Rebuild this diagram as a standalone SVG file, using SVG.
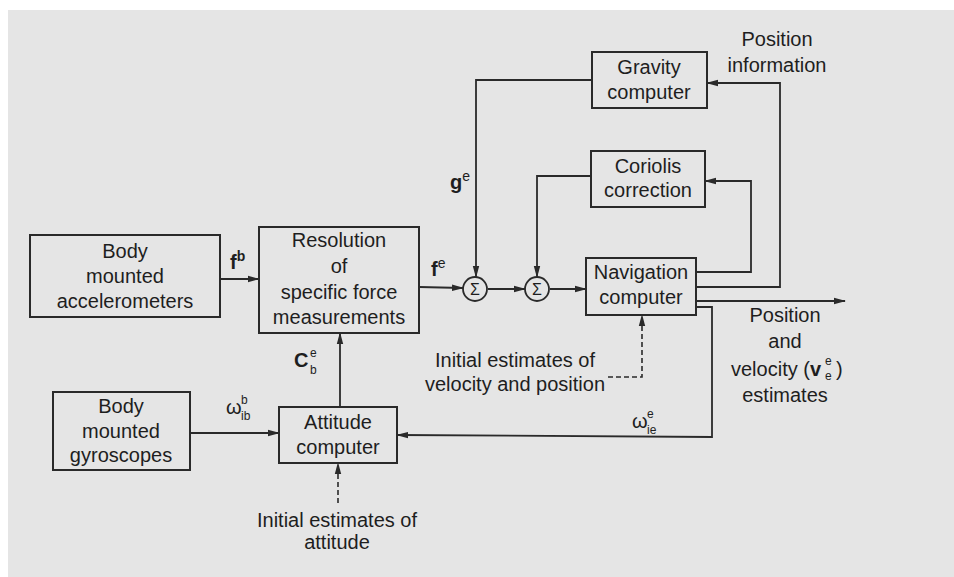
<svg xmlns="http://www.w3.org/2000/svg" width="954" height="577" viewBox="0 0 954 577">
<defs>
<marker id="ah" markerWidth="12" markerHeight="8" refX="11" refY="4" orient="auto" markerUnits="userSpaceOnUse">
<path d="M0,0.8 L12,4 L0,7.2 Z" fill="#2a2a2a"/>
</marker>
</defs>
<style>
.box{fill:none;stroke:#2a2a2a;stroke-width:2}
.ln{fill:none;stroke:#2a2a2a;stroke-width:1.8}
.dash{fill:none;stroke:#2a2a2a;stroke-width:1.6;stroke-dasharray:5,3}
text{font-family:"Liberation Sans",Arial,sans-serif;fill:#1e1e1e}
.t{font-size:20px;text-anchor:middle}
.m{font-size:20px;font-weight:bold}
.s{font-size:14px}
.ss{font-size:12px}
.sig{font-size:16px;text-anchor:middle}
</style>
<rect x="0" y="0" width="954" height="577" fill="#ffffff"/>
<rect x="8" y="10" width="946" height="567" fill="#e5e5e5"/>

<g id="connectors">
<line class="ln" x1="220" y1="279" x2="259" y2="279" marker-end="url(#ah)"/>
<line class="ln" x1="419" y1="287" x2="463" y2="288" marker-end="url(#ah)"/>
<line class="ln" x1="488" y1="289" x2="525" y2="289" marker-end="url(#ah)"/>
<line class="ln" x1="550" y1="289" x2="586" y2="289" marker-end="url(#ah)"/>
<polyline class="ln" points="592,80 476,80 476,277" marker-end="url(#ah)"/>
<polyline class="ln" points="591,176 537,176 537,277" marker-end="url(#ah)"/>
<polyline class="ln" points="696,272 751,272 751,181 705,181" marker-end="url(#ah)"/>
<polyline class="ln" points="696,287 780,287 780,83 707,83" marker-end="url(#ah)"/>
<line class="ln" x1="696" y1="301" x2="845" y2="301" marker-end="url(#ah)"/>
<polyline class="ln" points="696,307 712,307 712,437 397,435" marker-end="url(#ah)"/>
<line class="ln" x1="190" y1="433" x2="279" y2="433" marker-end="url(#ah)"/>
<line class="ln" x1="340" y1="407" x2="340" y2="333" marker-end="url(#ah)"/>
<polyline class="dash" points="608,377 642,377 642,315" marker-end="url(#ah)"/>
<line class="dash" x1="338" y1="503" x2="338" y2="463" marker-end="url(#ah)"/>
</g>

<g id="accelerometers">
<rect class="box" x="30" y="235" width="190" height="82"/>
<text class="t" x="125" y="258">Body</text>
<text class="t" x="125" y="283">mounted</text>
<text class="t" x="125" y="308">accelerometers</text>
</g>

<g id="resolution">
<rect class="box" x="259" y="227" width="160" height="106"/>
<text class="t" x="339" y="247">Resolution</text>
<text class="t" x="339" y="273">of</text>
<text class="t" x="339" y="299">specific force</text>
<text class="t" x="339" y="324">measurements</text>
</g>

<g id="gyroscopes">
<rect class="box" x="53" y="392" width="137" height="78"/>
<text class="t" x="121" y="413">Body</text>
<text class="t" x="121" y="438">mounted</text>
<text class="t" x="121" y="462">gyroscopes</text>
</g>

<g id="attitude">
<rect class="box" x="279" y="407" width="118" height="56"/>
<text class="t" x="338" y="429">Attitude</text>
<text class="t" x="338" y="454">computer</text>
</g>

<g id="gravity">
<rect class="box" x="592" y="52" width="115" height="56"/>
<text class="t" x="649" y="74">Gravity</text>
<text class="t" x="649" y="99">computer</text>
</g>

<g id="coriolis">
<rect class="box" x="591" y="151" width="114" height="56"/>
<text class="t" x="648" y="173">Coriolis</text>
<text class="t" x="648" y="197">correction</text>
</g>

<g id="navigation">
<rect class="box" x="586" y="258" width="110" height="57"/>
<text class="t" x="641" y="279">Navigation</text>
<text class="t" x="641" y="304">computer</text>
</g>

<g id="sum1">
<circle cx="475" cy="289" r="12" fill="none" stroke="#2a2a2a" stroke-width="1.8"/>
<text class="sig" x="475" y="295">Σ</text>
</g>

<g id="sum2">
<circle cx="537" cy="289" r="12" fill="none" stroke="#2a2a2a" stroke-width="1.8"/>
<text class="sig" x="537" y="295">Σ</text>
</g>

<g id="labels">
<text x="230" y="269"><tspan class="m">f</tspan><tspan class="s" font-weight="bold" dy="-8">b</tspan></text>
<text x="431" y="276"><tspan class="m">f</tspan><tspan class="s" dy="-8">e</tspan></text>
<text x="450" y="189"><tspan class="m">g</tspan><tspan class="s" dy="-8">e</tspan></text>
<text x="294" y="367" class="m">C</text>
<text x="310" y="357" class="ss">e</text>
<text x="310" y="374" class="ss">b</text>
<text x="226" y="414" font-size="20">ω</text>
<text x="241" y="404" class="ss">b</text>
<text x="241" y="420" class="ss">ib</text>
<text x="632" y="428" font-size="20">ω</text>
<text x="647" y="418" class="ss">e</text>
<text x="647" y="434" class="ss">ie</text>
<text class="t" x="777" y="46">Position</text>
<text class="t" x="777" y="72">information</text>
<text class="t" x="515" y="367">Initial estimates of</text>
<text class="t" x="515" y="391">velocity and position</text>
<text class="t" x="785" y="322">Position</text>
<text class="t" x="785" y="348">and</text>
<text x="731" y="376" font-size="20">velocity (<tspan font-weight="bold">v</tspan></text>
<text x="825" y="365" class="ss">e</text>
<text x="825" y="380" class="ss">e</text>
<text x="836" y="376" font-size="20">)</text>
<text class="t" x="785" y="402">estimates</text>
<text class="t" x="337" y="527">Initial estimates of</text>
<text class="t" x="337" y="549">attitude</text>
</g>
</svg>
